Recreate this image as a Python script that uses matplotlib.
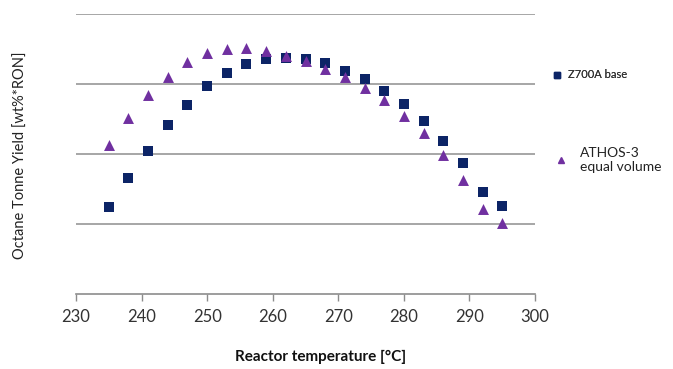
import matplotlib
matplotlib.use("Agg")
import matplotlib.pyplot as plt
from matplotlib.lines import Line2D

temps = [235, 238, 241, 244, 247, 250, 253, 256, 259, 262, 265,
         268, 271, 274, 277, 280, 283, 286, 289, 292, 295]
z700a = [1.25, 1.66, 2.05, 2.41, 2.70, 2.97, 3.16, 3.29, 3.36, 3.38, 3.36,
         3.30, 3.19, 3.07, 2.91, 2.72, 2.48, 2.19, 1.87, 1.46, 1.26]
athos = [2.13, 2.51, 2.84, 3.11, 3.32, 3.45, 3.50, 3.52, 3.48, 3.40, 3.33,
         3.22, 3.10, 2.94, 2.78, 2.55, 2.30, 1.99, 1.63, 1.21, 1.02]
xticks = [230, 240, 250, 260, 270, 280, 290, 300]
yticks = [1, 2, 3, 4]

navy = "#0c2466"
purple = "#7030a0"

plt.rcParams['font.family'] = ['Lato', 'DejaVu Sans']
fig = plt.figure(figsize=(6.73, 3.69), dpi=100)
ax = fig.add_axes([76/673, 1-294/369, (535-76)/673, (294-14.3)/369])

ax.scatter(temps, z700a, marker='s', s=52, color=navy, zorder=3, linewidths=0)
ax.scatter(temps, athos, marker='^', s=62, color=purple, zorder=4, linewidths=0)

ax.set_xlim(230, 300)
ax.set_ylim(0, 4)
ax.set_xticks(xticks)
ax.set_yticks(yticks)
ax.set_yticklabels([])
ax.tick_params(axis='y', length=0)
ax.tick_params(axis='x', direction='out', length=5, width=1, color='#8c8c8c',
               labelsize=12, pad=6, labelcolor='#333333')
ax.grid(axis='y', color='#a6a6a6', lw=1.4)
ax.set_axisbelow(True)
for s in ['top', 'right', 'left']:
    ax.spines[s].set_visible(False)
ax.spines['bottom'].set_color('#8c8c8c')
ax.spines['bottom'].set_linewidth(1.2)

ax.set_xlabel("Reactor temperature [°C]", fontsize=11, fontweight='bold',
              x=(321-76)/459, labelpad=18, color='#111111')
fig.text(21/673, 1-155/369, "Octane Tonne Yield [wt%*RON]", rotation=90,
         ha='center', va='center', fontsize=10.5, color='#222222')

h1 = Line2D([], [], marker='s', ls='none', color=navy, markersize=4)
h2 = Line2D([], [], marker='^', ls='none', color=purple, markersize=4)
leg1 = fig.legend([h1], ["Z700A base"], loc='center left',
                  bbox_to_anchor=(541/673, 1-75/369), frameon=False,
                  fontsize=8, handletextpad=0.5, handlelength=1.0)
leg1.get_texts()[0].set_color('#333333')
leg2 = fig.legend([h2], ["ATHOS-3\nequal volume"], loc='center left',
                  bbox_to_anchor=(542/673, 1-160/369), frameon=False,
                  fontsize=10, handletextpad=0.8, handlelength=1.0)
leg2.get_texts()[0].set_color('#222222')
fig.add_artist(leg1)

fig.savefig("out.png", dpi=100)
